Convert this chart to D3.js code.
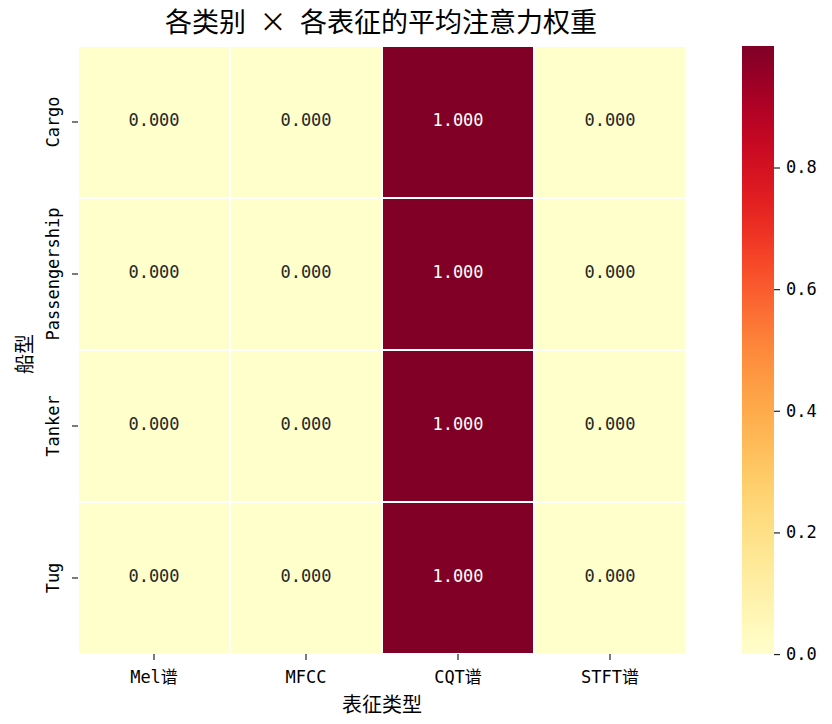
<!DOCTYPE html>
<html>
<head>
<meta charset="utf-8">
<script src="https://cdn.jsdelivr.net/npm/d3@7"></script>
<style>
  body { margin: 0; background: #fff; }
  text { font-family: "Noto Sans CJK SC", "DejaVu Sans", sans-serif; }
  .mono { font-family: "DejaVu Sans Mono", "Noto Sans CJK SC", monospace; }
</style>
</head>
<body>
<div id="chart"></div>
<script>
// Data
const shipTypes = ["Cargo", "Passengership", "Tanker", "Tug"];
const features = ["Mel谱", "MFCC", "CQT谱", "STFT谱"];
const cargoWeights = [0.0001, 0.0001, 0.9998, 0.0001];
const passengerWeights = [0.0001, 0.0001, 0.9998, 0.0001];
const tankerWeights = [0.0001, 0.0001, 0.9998, 0.0001];
const tugWeights = [0.0001, 0.0001, 0.9998, 0.0001];
const colorTicks = [0.0, 0.2, 0.4, 0.6, 0.8];

const rows = [cargoWeights, passengerWeights, tankerWeights, tugWeights];

// Flatten into cells
const cells = [];
rows.forEach((r, i) => r.forEach((v, j) => cells.push({ row: shipTypes[i], col: features[j], value: v })));

const W = 832, H = 724;
const margin = { top: 46, left: 78 };
const plotW = 608, plotH = 608;

const svg = d3.select("#chart").append("svg")
  .attr("width", W)
  .attr("height", H);

// Scales
const x = d3.scaleBand().domain(features).range([margin.left, margin.left + plotW]);
const y = d3.scaleBand().domain(shipTypes).range([margin.top, margin.top + plotH]);
const vmin = d3.min(cells, d => d.value), vmax = d3.max(cells, d => d.value);
const color = d3.scaleSequential(d3.interpolateYlOrRd).domain([vmin, vmax]);

// Cells
svg.append("g").selectAll("rect")
  .data(cells)
  .join("rect")
  .attr("x", d => x(d.col))
  .attr("y", d => y(d.row))
  .attr("width", x.bandwidth())
  .attr("height", y.bandwidth())
  .attr("fill", d => color(d.value))
  .attr("stroke", "#fff")
  .attr("stroke-width", 2);

// Annotations
svg.append("g").selectAll("text")
  .data(cells)
  .join("text")
  .attr("class", "mono")
  .attr("x", d => x(d.col) + x.bandwidth() / 2)
  .attr("y", d => y(d.row) + y.bandwidth() / 2 - 2)
  .attr("text-anchor", "middle")
  .attr("dy", "0.36em")
  .attr("font-size", 17)
  .attr("fill", d => ((d.value - vmin) / (vmax - vmin) > 0.5) ? "#fff" : "#262626")
  .text(d => d.value.toFixed(3));

// Axes
const xAxis = svg.append("g")
  .attr("transform", `translate(0,${margin.top + plotH})`)
  .call(d3.axisBottom(x).tickSize(6).tickPadding(0));
xAxis.select(".domain").remove();
xAxis.selectAll("line").attr("stroke", "#222").attr("stroke-width", 1.2);
xAxis.selectAll("text")
  .attr("class", "mono")
  .attr("font-size", 17).attr("fill", "#000")
  .attr("y", 23).attr("dy", "0.36em");

const yAxis = svg.append("g")
  .attr("transform", `translate(${margin.left},0)`)
  .call(d3.axisLeft(y).tickSize(6).tickPadding(0));
yAxis.select(".domain").remove();
yAxis.selectAll("line").attr("stroke", "#222").attr("stroke-width", 1.2);
yAxis.selectAll("text")
  .attr("class", "mono")
  .attr("font-size", 17).attr("fill", "#000")
  .attr("text-anchor", "middle")
  .attr("transform", "rotate(-90)")
  .attr("x", 0).attr("y", -25).attr("dy", "0.36em");

// Axis labels
svg.append("text")
  .attr("x", margin.left + plotW / 2)
  .attr("y", 705)
  .attr("text-anchor", "middle")
  .attr("dy", "0.36em")
  .attr("font-size", 20)
  .text("表征类型");

svg.append("text")
  .attr("transform", `translate(25,${margin.top + plotH / 2 + 4}) rotate(-90)`)
  .attr("text-anchor", "middle")
  .attr("dy", "0.36em")
  .attr("font-size", 20)
  .text("船型");

// Title
svg.append("text")
  .attr("x", 381)
  .attr("y", 22)
  .attr("text-anchor", "middle")
  .attr("dy", "0.36em")
  .attr("font-size", 27)
  .style("white-space", "pre")
  .text("各类别\u2002×\u2002各表征的平均注意力权重");

// Colorbar
const cbX = 742, cbW = 32;
const cb = d3.scaleLinear().domain([vmin, vmax]).range([margin.top + plotH, margin.top]);
const grad = svg.append("defs").append("linearGradient")
  .attr("id", "cbgrad")
  .attr("x1", 0).attr("x2", 0).attr("y1", 1).attr("y2", 0);
d3.range(0, 1.0001, 0.05).forEach(t => {
  grad.append("stop")
    .attr("offset", t)
    .attr("stop-color", color(vmin + t * (vmax - vmin)));
});
svg.append("rect")
  .attr("x", cbX)
  .attr("y", margin.top)
  .attr("width", cbW)
  .attr("height", plotH)
  .attr("fill", "url(#cbgrad)");

const cbAxis = svg.append("g")
  .attr("transform", `translate(${cbX + cbW},0)`)
  .call(d3.axisRight(cb).tickValues(colorTicks).tickFormat(d3.format(".1f")).tickSize(6).tickPadding(6));
cbAxis.select(".domain").remove();
cbAxis.selectAll("line").attr("stroke", "#222").attr("stroke-width", 1.2);
cbAxis.selectAll("text")
  .attr("class", "mono")
  .attr("font-size", 17).attr("fill", "#000");
</script>
</body>
</html>
